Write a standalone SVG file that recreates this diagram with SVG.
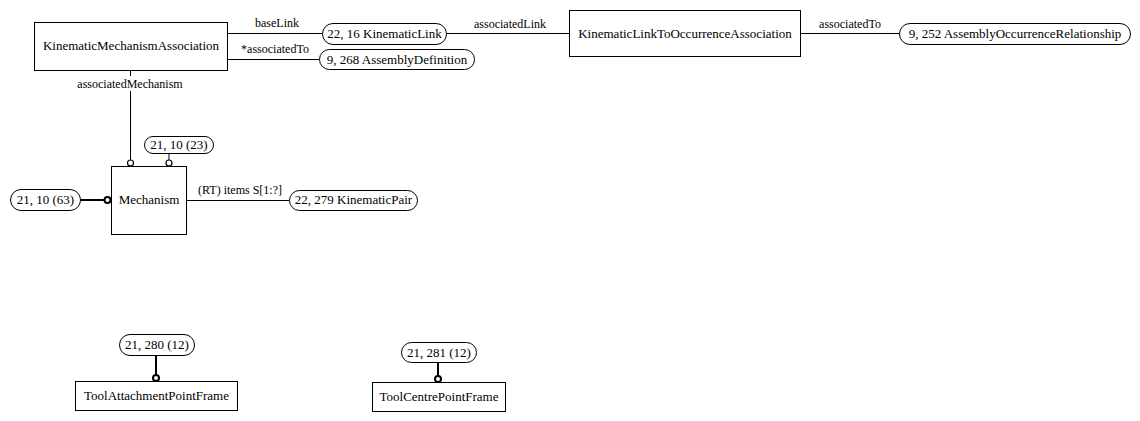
<svg xmlns="http://www.w3.org/2000/svg" width="1140" height="421" viewBox="0 0 1140 421">
<style>
.box{fill:#fff;stroke:#000;stroke-width:1}
.pill{fill:#fff;stroke:#000;stroke-width:1}
.t{font-family:"Liberation Serif","Times New Roman",serif;font-size:13px;text-anchor:middle;fill:#000}
.lbl{font-family:"Liberation Serif","Times New Roman",serif;font-size:12px;text-anchor:middle;fill:#000}
.ln{stroke:#000;stroke-width:1;fill:none}
.thick{stroke:#000;stroke-width:2;fill:none}
.dot{fill:#fff;stroke:#000;stroke-width:1.2}
.dotb{fill:#fff;stroke:#000;stroke-width:2}
</style>
<rect width="1140" height="421" fill="#fff"/>
<g id="connectors">
<path class="ln" d="M228 33.5H322"/>
<text class="lbl" x="277" y="27">baseLink</text>
<path class="ln" d="M228 59.5H319"/>
<text class="lbl" x="275" y="53">*associatedTo</text>
<path class="ln" d="M447 33.5H569"/>
<text class="lbl" x="510" y="28">associatedLink</text>
<path class="ln" d="M801 33.5H899"/>
<text class="lbl" x="850" y="28">associatedTo</text>
<path class="ln" d="M130.5 71V76M130.5 91V160"/>
<circle class="dot" cx="130.5" cy="163" r="3"/>
<text class="lbl" x="130" y="88">associatedMechanism</text>
<path class="ln" d="M169 153V160"/>
<circle class="dot" cx="169" cy="163" r="3"/>
<path class="thick" d="M80 200H104"/>
<circle class="dotb" cx="107.5" cy="200" r="3"/>
<path class="ln" d="M187 200.5H289"/>
<text class="lbl" x="240" y="194">(RT) items S[1:?]</text>
<path class="thick" d="M156 355V375"/>
<circle class="dotb" cx="156" cy="378" r="3"/>
<path class="thick" d="M438 362V376"/>
<circle class="dotb" cx="438" cy="379" r="3"/>
</g>
<g id="KinematicMechanismAssociation">
<rect class="box" x="34.5" y="22.5" width="193" height="48"/>
<text class="t" x="131" y="50">KinematicMechanismAssociation</text>
</g>
<g id="KinematicLink">
<rect class="pill" x="322.5" y="23.5" width="124" height="21" rx="10.5"/>
<text class="t" x="384.5" y="38">22, 16 KinematicLink</text>
</g>
<g id="AssemblyDefinition">
<rect class="pill" x="319.5" y="49.5" width="155" height="20" rx="10"/>
<text class="t" x="397" y="64">9, 268 AssemblyDefinition</text>
</g>
<g id="KinematicLinkToOccurrenceAssociation">
<rect class="box" x="569.5" y="10.5" width="231" height="46"/>
<text class="t" x="685" y="38">KinematicLinkToOccurrenceAssociation</text>
</g>
<g id="AssemblyOccurrenceRelationship">
<rect class="pill" x="899.5" y="23.5" width="231" height="21" rx="10.5"/>
<text class="t" x="1015" y="38">9, 252 AssemblyOccurrenceRelationship</text>
</g>
<g id="Mechanism">
<rect class="box" x="111.5" y="166.5" width="75" height="68"/>
<text class="t" x="149" y="204">Mechanism</text>
</g>
<g id="ref_21_10_23">
<rect class="pill" x="144.5" y="136.5" width="69" height="17" rx="8.5"/>
<text class="t" x="179" y="149">21, 10 (23)</text>
</g>
<g id="ref_21_10_63">
<rect class="pill" x="10.5" y="189.5" width="70" height="21" rx="10.5"/>
<text class="t" x="45.5" y="204">21, 10 (63)</text>
</g>
<g id="KinematicPair">
<rect class="pill" x="289.5" y="190.5" width="128" height="20" rx="10"/>
<text class="t" x="353.5" y="204">22, 279 KinematicPair</text>
</g>
<g id="ToolAttachmentPointFrame">
<rect class="box" x="75.5" y="381.5" width="162" height="29"/>
<text class="t" x="156.5" y="400">ToolAttachmentPointFrame</text>
</g>
<g id="ref_21_280_12">
<rect class="pill" x="119.5" y="334.5" width="75" height="21" rx="10.5"/>
<text class="t" x="157" y="349">21, 280 (12)</text>
</g>
<g id="ToolCentrePointFrame">
<rect class="box" x="372.5" y="382.5" width="133" height="29"/>
<text class="t" x="439" y="401">ToolCentrePointFrame</text>
</g>
<g id="ref_21_281_12">
<rect class="pill" x="401.5" y="342.5" width="75" height="20" rx="10"/>
<text class="t" x="439" y="357">21, 281 (12)</text>
</g>
</svg>
